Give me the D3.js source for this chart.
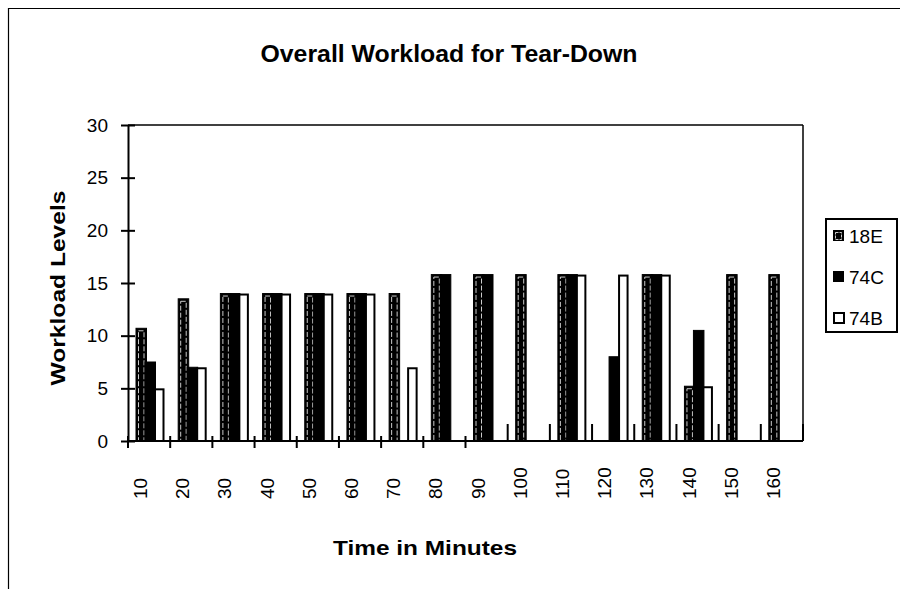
<!DOCTYPE html>
<html>
<head>
<meta charset="utf-8">
<script src="https://cdn.jsdelivr.net/npm/d3@7"></script>
<style>
  html, body { margin: 0; padding: 0; background: #fff; }
  svg { display: block; }
  text { font-family: "Liberation Sans", Arial, Helvetica, sans-serif; fill: #000; }
</style>
</head>
<body>
<svg id="chart" width="900" height="589"></svg>
<script>
// ---- data ----
const categories = [10, 20, 30, 40, 50, 60, 70, 80, 90, 100, 110, 120, 130, 140, 150, 160];
const seriesNames = ["18E", "74C", "74B"];
const values18E = [10.7, 13.5, 14, 14, 14, 14, 14, 15.8, 15.8, 15.8, 15.8, 0, 15.8, 5.2, 15.8, 15.8];
const values74C = [7.5, 7, 14, 14, 14, 14, 0, 15.8, 15.8, 0, 15.8, 8, 15.8, 10.5, 0, 0];
const values74B = [5, 7, 14, 14, 14, 14, 7, 0, 0, 0, 15.8, 15.8, 15.8, 5.2, 0, 0];
const yTicks = [0, 5, 10, 15, 20, 25, 30];
const titleText = "Overall Workload for Tear-Down";
const xTitle = "Time in Minutes";
const yTitle = "Workload Levels";

const seriesValues = { "18E": values18E, "74C": values74C, "74B": values74B };

// ---- layout ----
const svg = d3.select("#chart");
const plot = { left: 128, right: 803, top: 125, bottom: 441 };

svg.append("rect").attr("width", 900).attr("height", 589).attr("fill", "#fff");

// outer frame (top + left visible)
svg.append("line").attr("x1", 8).attr("x2", 900).attr("y1", 8.5).attr("y2", 8.5)
  .attr("stroke", "#000").attr("stroke-width", 1.2);
svg.append("line").attr("x1", 8.5).attr("x2", 8.5).attr("y1", 8).attr("y2", 589)
  .attr("stroke", "#000").attr("stroke-width", 1.2);

const x = d3.scaleBand().domain(categories).range([plot.left, plot.right]).padding(0);
const xInner = d3.scaleBand().domain(seriesNames).range([8, 35]).padding(0);
const y = d3.scaleLinear().domain([0, 30]).range([plot.bottom, plot.top]);

// plot frame (top and right)
svg.append("line").attr("x1", plot.left).attr("x2", plot.right).attr("y1", plot.top).attr("y2", plot.top)
  .attr("stroke", "#000").attr("stroke-width", 1.5);
svg.append("line").attr("x1", plot.right).attr("x2", plot.right).attr("y1", plot.top).attr("y2", plot.bottom)
  .attr("stroke", "#000").attr("stroke-width", 1.5);

// ---- bars ----
const barW = xInner.bandwidth() + 1.5;
const barData = [];
seriesNames.forEach(s => {
  categories.forEach((c, i) => {
    const v = seriesValues[s][i];
    if (v > 0) barData.push({ s, c, v });
  });
});
const bars = svg.append("g");
barData.forEach(d => {
  const bx = x(d.c) + xInner(d.s);
  const by = y(d.v);
  const bh = y(0) - y(d.v);
  if (d.s === "18E") {
    bars.append("rect").attr("x", bx).attr("y", by).attr("width", barW).attr("height", bh)
      .attr("fill", "#000").attr("stroke", "#000").attr("stroke-width", 1);
    bars.append("rect").attr("x", bx + 2.5).attr("y", by + 2.5).attr("width", barW - 5).attr("height", Math.max(0, bh - 3))
      .attr("fill", "none").attr("stroke", "#fff").attr("stroke-width", 0.8).attr("stroke-dasharray", "5,2");
  } else if (d.s === "74C") {
    bars.append("rect").attr("x", bx).attr("y", by).attr("width", barW).attr("height", bh)
      .attr("fill", "#000").attr("stroke", "#000").attr("stroke-width", 1);
  } else {
    bars.append("rect").attr("x", bx + 1).attr("y", by + 1).attr("width", barW - 2).attr("height", bh - 1)
      .attr("fill", "#fff").attr("stroke", "#000").attr("stroke-width", 2);
  }
});

// ---- y axis ----
const yAxis = d3.axisLeft(y).tickValues(yTicks).tickSizeInner(7).tickSizeOuter(0).tickPadding(13);
const gy = svg.append("g").attr("transform", `translate(${plot.left},0)`).call(yAxis);
gy.select(".domain").attr("stroke", "#000").attr("stroke-width", 2);
gy.selectAll(".tick line").attr("stroke", "#000").attr("stroke-width", 2).attr("x2", 7).attr("x1", -7);
gy.selectAll(".tick text").attr("font-size", 19).attr("font-family", "Liberation Sans, Arial, sans-serif");

// ---- x axis baseline and boundary ticks ----
svg.append("line").attr("x1", plot.left).attr("x2", plot.right).attr("y1", plot.bottom).attr("y2", plot.bottom)
  .attr("stroke", "#000").attr("stroke-width", 2);
const boundaries = categories.map(c => x(c)).concat([plot.right]);
boundaries.forEach((bx, i) => {
  const up = i >= 9;
  svg.append("line").attr("x1", bx).attr("x2", bx)
    .attr("y1", up ? plot.bottom - 17 : plot.bottom - 5)
    .attr("y2", up ? plot.bottom : plot.bottom + 7)
    .attr("stroke", "#000").attr("stroke-width", 2);
});

// x tick labels (rotated)
svg.append("g").selectAll("text").data(categories).join("text")
  .attr("transform", d => `translate(${x(d) + x.bandwidth() / 2 - 2},499) rotate(-90)`)
  .attr("text-anchor", "start")
  .attr("font-size", 19)
  .text(d => d);

// ---- titles ----
svg.append("text").attr("x", 449).attr("y", 62).attr("text-anchor", "middle")
  .attr("font-size", 23).attr("font-weight", "bold")
  .attr("textLength", 377).attr("lengthAdjust", "spacingAndGlyphs").text(titleText);
svg.append("text").attr("x", 425).attr("y", 555).attr("text-anchor", "middle")
  .attr("font-size", 21).attr("font-weight", "bold")
  .attr("textLength", 184).attr("lengthAdjust", "spacingAndGlyphs").text(xTitle);
svg.append("text").attr("transform", "translate(65,288) rotate(-90)").attr("text-anchor", "middle")
  .attr("font-size", 21).attr("font-weight", "bold")
  .attr("textLength", 195).attr("lengthAdjust", "spacingAndGlyphs").text(yTitle);

// ---- legend ----
const lg = svg.append("g");
lg.append("rect").attr("x", 826).attr("y", 219).attr("width", 71).attr("height", 113)
  .attr("fill", "#fff").attr("stroke", "#000").attr("stroke-width", 2);
const legY = d3.scalePoint().domain(seriesNames).range([236, 318]);
seriesNames.forEach(s => {
  const cy = legY(s);
  if (s === "18E") {
    lg.append("rect").attr("x", 833).attr("y", cy - 6).attr("width", 11).attr("height", 11).attr("fill", "#000");
    lg.append("rect").attr("x", 835.5).attr("y", cy - 3.5).attr("width", 6).attr("height", 7)
      .attr("fill", "none").attr("stroke", "#fff").attr("stroke-width", 0.8).attr("stroke-dasharray", "3,1");
  } else if (s === "74C") {
    lg.append("rect").attr("x", 833).attr("y", cy - 6).attr("width", 11).attr("height", 11).attr("fill", "#000");
  } else {
    lg.append("rect").attr("x", 834).attr("y", cy - 5).attr("width", 10).attr("height", 10)
      .attr("fill", "#fff").attr("stroke", "#000").attr("stroke-width", 2);
  }
  lg.append("text").attr("x", 849).attr("y", cy + 6.5).attr("font-size", 19).text(s);
});
</script>
</body>
</html>
